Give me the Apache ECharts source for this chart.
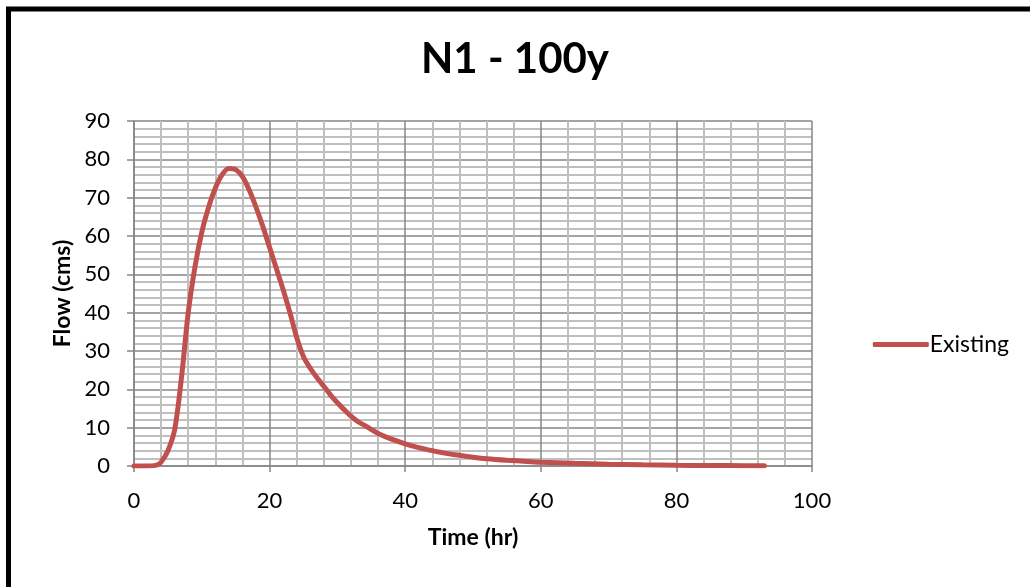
<!DOCTYPE html>
<html>
<head>
<meta charset="utf-8">
<script src="https://cdn.jsdelivr.net/npm/echarts@6/dist/echarts.min.js"></script>
<style>
  html, body { margin: 0; padding: 0; background: #fff; }
  #chart { width: 1030px; height: 587px; }
</style>
</head>
<body>
<div id="chart"></div>
<script>
// Hydrograph for node N1, 100-year event
const timeHr = [0, 1, 2, 3, 3.5, 4, 5, 6, 7, 8, 9, 10, 11, 12, 13, 14, 15, 16, 17, 18, 19, 20,
  21, 22, 23, 24, 25, 26, 27, 28, 29, 30, 31, 32, 33, 34, 35, 36, 38, 40, 42, 44, 46, 48, 50,
  52, 55, 58, 60, 65, 70, 75, 80, 85, 90, 93];
const flowExisting = [0, 0, 0, 0.1, 0.3, 1.0, 4.0, 9.5, 23, 40, 52, 61, 67.5, 72.5, 76, 77.6, 77.3,
  75.5, 72, 67.5, 62.5, 57, 51.5, 46, 40, 33.5, 28.5, 25.5, 23, 20.8, 18.5, 16.5, 14.7, 13,
  11.6, 10.6, 9.5, 8.5, 7.0, 5.8, 4.8, 4.0, 3.3, 2.8, 2.3, 1.9, 1.5, 1.2, 1.0, 0.7, 0.45, 0.3,
  0.2, 0.12, 0.08, 0.05];
const seriesName = 'Existing';

const FONT = 'Lato, "Open Sans", sans-serif';
const LINE_COLOR = '#C0504D';
const points = timeHr.map((t, i) => [t, flowExisting[i]]);

const chart = echarts.init(document.getElementById('chart'));
chart.setOption({
  animation: false,
  backgroundColor: '#ffffff',
  graphic: [{
    type: 'rect',
    shape: { x: 8.5, y: 9, width: 1040, height: 600 },
    style: { fill: 'none', stroke: '#000', lineWidth: 5 },
    z: 100
  }],
  title: {
    text: 'N1 - 100y',
    left: 'center',
    top: 38,
    textStyle: { fontFamily: FONT, fontSize: 42, fontWeight: 'bold', color: '#000' },
    padding: 0
  },
  legend: {
    right: 16,
    top: 328,
    orient: 'vertical',
    icon: 'roundRect',
    itemWidth: 56,
    itemHeight: 5,
    itemStyle: { color: LINE_COLOR, borderWidth: 0 },
    textStyle: { fontFamily: FONT, fontSize: 23, color: '#000', padding: [0, 0, 0, -4] },
    data: [seriesName]
  },
  grid: { left: 134, right: 218, top: 121, bottom: 121, containLabel: false },
  xAxis: {
    type: 'value',
    min: 0, max: 100, interval: 20,
    name: 'Time (hr)',
    nameLocation: 'middle',
    nameGap: 60,
    nameTextStyle: { fontFamily: FONT, fontSize: 23, fontWeight: 'bold', color: '#000' },
    axisLine: { show: true, lineStyle: { color: '#868686', width: 1.5 } },
    axisTick: { show: true, length: 6, lineStyle: { color: '#868686', width: 1.5 } },
    axisLabel: { fontFamily: FONT, fontSize: 22, color: '#000', margin: 24 },
    splitLine: { show: true, lineStyle: { color: '#868686', width: 1.5 } },
    minorTick: { show: false, splitNumber: 5 },
    minorSplitLine: { show: true, lineStyle: { color: '#BFBFBF', width: 2 } }
  },
  yAxis: {
    type: 'value',
    min: 0, max: 90, interval: 10,
    name: 'Flow (cms)',
    nameLocation: 'middle',
    nameGap: 60,
    nameTextStyle: { fontFamily: FONT, fontSize: 23, fontWeight: 'bold', color: '#000' },
    axisLine: { show: true, lineStyle: { color: '#868686', width: 1.5 } },
    axisTick: { show: true, length: 7, lineStyle: { color: '#868686', width: 1.5 } },
    axisLabel: { fontFamily: FONT, fontSize: 22, color: '#000', margin: 24 },
    splitLine: { show: true, lineStyle: { color: '#868686', width: 1.5 } },
    minorTick: { show: false, splitNumber: 5 },
    minorSplitLine: { show: true, lineStyle: { color: '#BFBFBF', width: 2 } }
  },
  series: [{
    name: seriesName,
    type: 'line',
    data: points,
    smooth: 0.3,
    symbol: 'none',
    lineStyle: { color: LINE_COLOR, width: 5, cap: 'round' },
    itemStyle: { color: LINE_COLOR },
    z: 5
  }]
});
</script>
</body>
</html>
